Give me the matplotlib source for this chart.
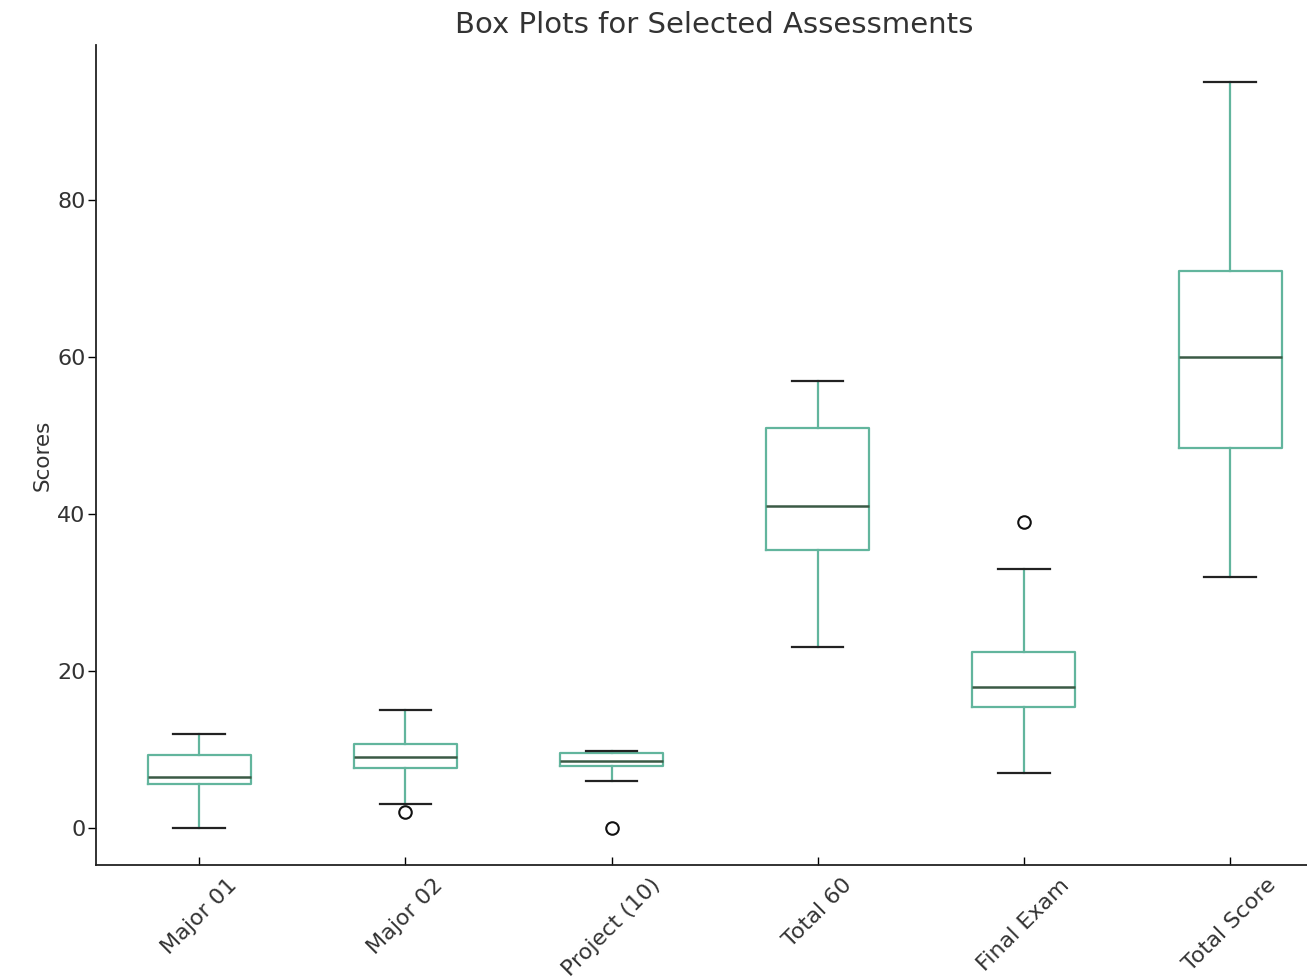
import matplotlib
matplotlib.use("Agg")
import matplotlib.pyplot as plt

# five-number summaries of each assessment, plus outliers
labels = ["Major 01", "Major 02", "Project (10)", "Total 60", "Final Exam", "Total Score"]
whislo = [0.0, 3.0, 6.0, 23.0, 7.0, 32.0]
q1 = [5.6, 7.6, 7.9, 35.4, 15.4, 48.4]
med = [6.5, 9.0, 8.5, 41.0, 18.0, 60.0]
q3 = [9.3, 10.7, 9.5, 51.0, 22.4, 71.0]
whishi = [12.0, 15.0, 9.8, 57.0, 33.0, 95.0]
fliers = [[], [2.0], [0.0], [], [39.0], []]

stats = []
for i in range(len(labels)):
    stats.append({"label": labels[i], "whislo": whislo[i], "q1": q1[i], "med": med[i],
                  "q3": q3[i], "whishi": whishi[i], "fliers": fliers[i]})

teal = "#62b59d"
txt = "#333333"

fig = plt.figure(figsize=(13.07, 9.8), dpi=100)
ax = fig.add_axes([0.0735, 0.1173, 0.9465, 0.8367])

ax.bxp(stats, widths=0.5, showfliers=True,
       boxprops=dict(color=teal, linewidth=1.6),
       whiskerprops=dict(color=teal, linewidth=1.6),
       capprops=dict(color="#222222", linewidth=1.6),
       medianprops=dict(color="#3b5a45", linewidth=1.8),
       flierprops=dict(marker="o", markerfacecolor="none", markeredgecolor="#111111",
                       markersize=9, markeredgewidth=1.5))

ax.set_xlim(0.5, 6.5)
ax.set_ylim(-4.75, 99.75)
ax.set_yticks([0, 20, 40, 60, 80])

for s in ["top", "right"]:
    ax.spines[s].set_visible(False)
for s in ["left", "bottom"]:
    ax.spines[s].set_linewidth(1.3)
    ax.spines[s].set_color("#222222")

ax.tick_params(axis="y", direction="out", length=6, width=1, labelsize=16, labelcolor=txt, pad=1.5)
ax.tick_params(axis="x", direction="in", length=6, width=1, labelsize=16, labelcolor=txt, pad=7)
plt.setp(ax.get_xticklabels(), rotation=45)

ax.set_ylabel("Scores", fontsize=15.5, color=txt, labelpad=3.5)
ax.set_title("Box Plots for Selected Assessments", fontsize=21, color=txt, pad=8.5)

fig.savefig("out.png", dpi=100)
